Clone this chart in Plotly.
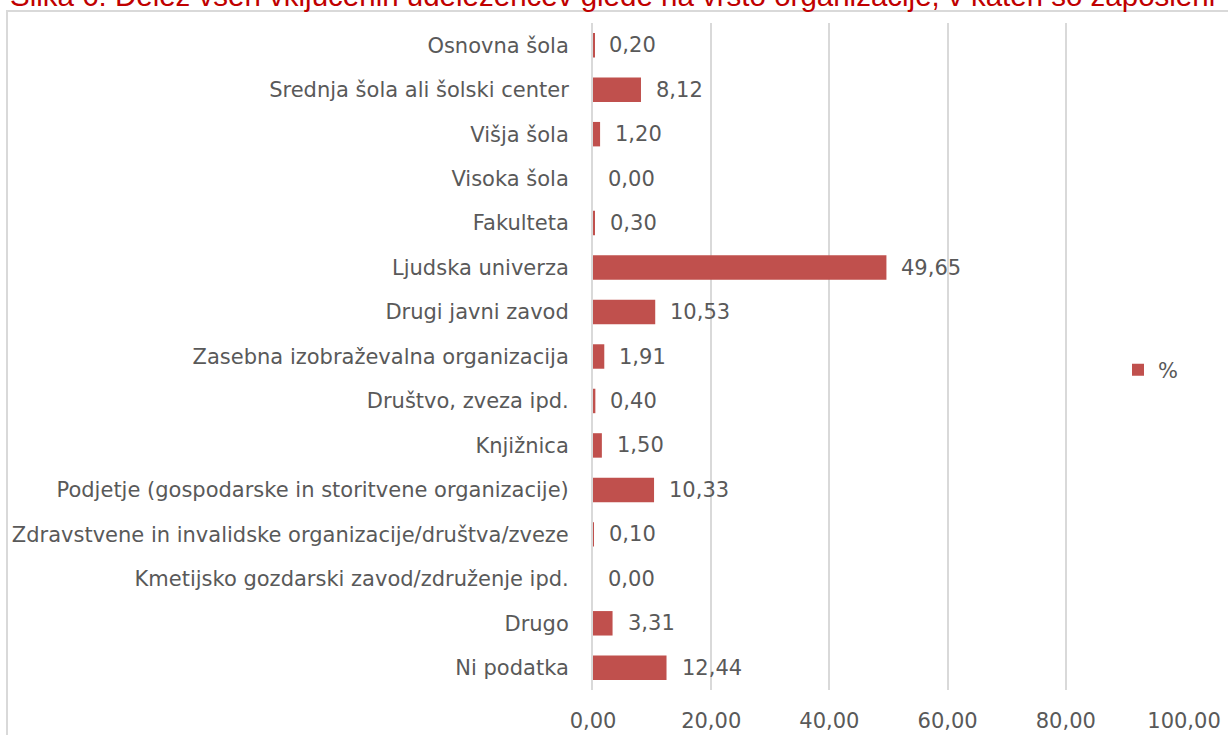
import plotly.graph_objects as go

title_text = "Slika 6: Delež vseh vključenih udeležencev glede na vrsto organizacije, v kateri so zaposleni"
categories = [
    "Osnovna šola",
    "Srednja šola ali šolski center",
    "Višja šola",
    "Visoka šola",
    "Fakulteta",
    "Ljudska univerza",
    "Drugi javni zavod",
    "Zasebna izobraževalna organizacija",
    "Društvo, zveza ipd.",
    "Knjižnica",
    "Podjetje (gospodarske in storitvene organizacije)",
    "Zdravstvene in invalidske organizacije/društva/zveze",
    "Kmetijsko gozdarski zavod/združenje ipd.",
    "Drugo",
    "Ni podatka",
]
values = [0.20, 8.12, 1.20, 0.00, 0.30, 49.65, 10.53, 1.91, 0.40, 1.50, 10.33, 0.10, 0.00, 3.31, 12.44]
series_name = "%"
x_ticks = [0, 20, 40, 60, 80, 100]

W, H = 1228, 735
L, R, T, B = 593, 44, 23, 45
FONT = "DejaVu Sans"
GRAY = "#595959"
BAR = "#C0504D"
FS = 21

plot_w = W - L - R
plot_h = H - T - B

fig = go.Figure()
fig.add_trace(go.Bar(
    x=values, y=categories, orientation="h", name=series_name,
    marker=dict(color=BAR, line=dict(width=0)), width=0.55,
))

for c, v in zip(categories, values):
    fig.add_annotation(
        x=v, y=c, xref="x", yref="y", text=f"{v:.2f}".replace(".", ","),
        showarrow=False, xanchor="left", yanchor="middle", xshift=13,
        font=dict(family=FONT, size=FS, color=GRAY),
    )

fig.add_annotation(
    x=(8 - L) / plot_w, y=(H - B + 4) / plot_h, xref="paper", yref="paper",
    text=title_text, showarrow=False, xanchor="left", yanchor="middle",
    font=dict(family="Liberation Sans", size=29.5, color="#C00000"),
)

# outer frame
fig.add_shape(
    type="rect", xref="paper", yref="paper",
    x0=(7 - L) / plot_w, x1=1.5,
    y0=-0.5, y1=(H - B - 11) / plot_h,
    line=dict(color="#D9D9D9", width=2), fillcolor="rgba(0,0,0,0)", layer="below",
)

fig.update_layout(
    width=W, height=H,
    margin=dict(l=L, r=R, t=T, b=B, pad=0, autoexpand=False),
    paper_bgcolor="white", plot_bgcolor="white",
    separators=",.",
    font=dict(family=FONT, size=FS, color=GRAY),
    showlegend=True,
    legend=dict(x=(1118 - L) / plot_w, y=(H - B - 370) / plot_h, xanchor="left", yanchor="middle",
                font=dict(family=FONT, size=FS, color=GRAY), bgcolor="rgba(0,0,0,0)"),
    xaxis=dict(
        range=[0, 100], tickvals=x_ticks, tickformat=".2f", automargin=False,
        showgrid=True, gridcolor="#D9D9D9", gridwidth=2,
        zeroline=False, showline=False, ticks="", ticklabelstandoff=16,
        tickfont=dict(family=FONT, size=FS, color=GRAY),
    ),
    yaxis=dict(
        autorange="reversed", showgrid=False, zeroline=False, automargin=False,
        showline=True, linecolor="#D9D9D9", linewidth=2, ticks="",
        ticklabelstandoff=18, tickfont=dict(family=FONT, size=FS, color=GRAY),
    ),
)

fig.write_html("out.html", post_script="document.body.style.margin='0';",
               config={"displayModeBar": False})
